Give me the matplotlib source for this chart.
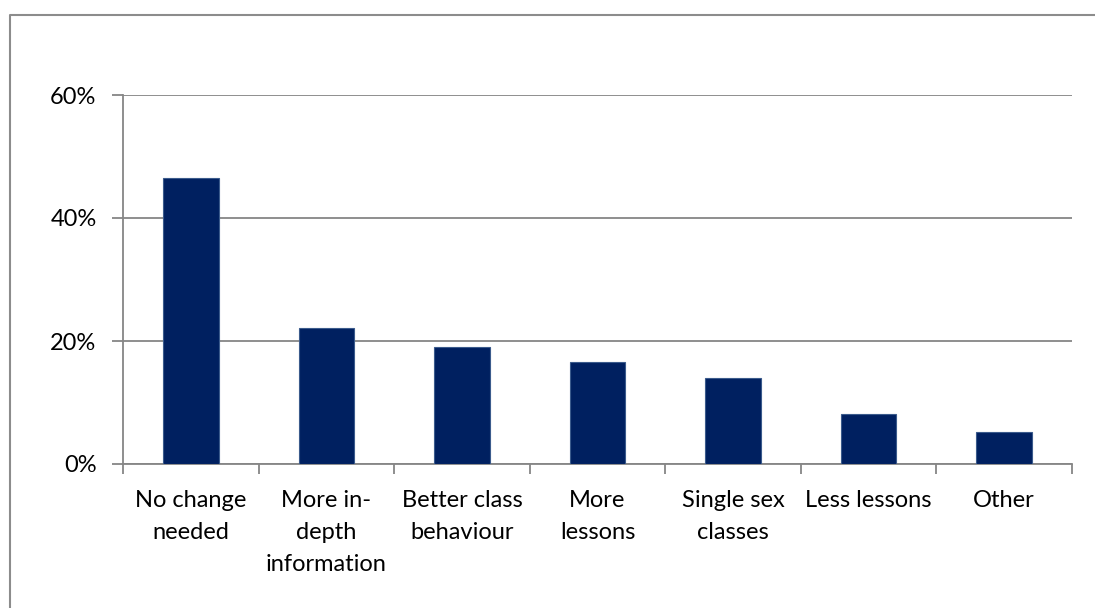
import matplotlib
matplotlib.use("Agg")
import matplotlib.pyplot as plt
from matplotlib.lines import Line2D
from matplotlib.ticker import FuncFormatter, FixedLocator

categories = ["No change\nneeded", "More in-\ndepth\ninformation", "Better class\nbehaviour",
              "More\nlessons", "Single sex\nclasses", "Less lessons", "Other"]
values = [46.5, 22.1, 19.0, 16.6, 14.0, 8.1, 5.2]
yticks = [0, 20, 40, 60]

plt.rcParams['font.family'] = ['Lato', 'DejaVu Sans']

W, H = 1095, 608
fig = plt.figure(figsize=(W / 100, H / 100), dpi=100)
ax = fig.add_axes([123 / W, 1 - 464 / H, (1072 - 123) / W, (464 - 95) / H])

grey = "#868686"
x = list(range(len(categories)))
ax.bar(x, values, width=0.41, color="#002060", edgecolor="#3b5b8c", linewidth=0.8, zorder=3)

ax.set_xlim(-0.5, len(categories) - 0.5)
ax.set_ylim(0, 60)
ax.yaxis.set_major_locator(FixedLocator(yticks))
ax.yaxis.set_major_formatter(FuncFormatter(lambda v, p: f"{v:.0f}%"))
ax.grid(axis="y", color=grey, linewidth=1.3, zorder=0)

ax.set_xticks(x)
ax.set_xticklabels(categories, linespacing=1.65)
ax.set_xticks([i - 0.5 for i in range(len(categories) + 1)], minor=True)
ax.tick_params(axis="x", which="major", length=0, pad=19, labelsize=17)
ax.tick_params(axis="x", which="minor", length=7, width=1.3, color=grey)
ax.tick_params(axis="y", length=8, width=1.3, color=grey, pad=11, labelsize=17)

for s in ["top", "right"]:
    ax.spines[s].set_visible(False)
for s in ["left", "bottom"]:
    ax.spines[s].set_color(grey)
    ax.spines[s].set_linewidth(1.3)

bx, by = 9.5 / W, 1 - 14.5 / H
fig.add_artist(Line2D([bx, bx, 1], [0, by, by], transform=fig.transFigure,
                      color="#8c8c8c", linewidth=1.5))

fig.savefig("out.png", dpi=100)
